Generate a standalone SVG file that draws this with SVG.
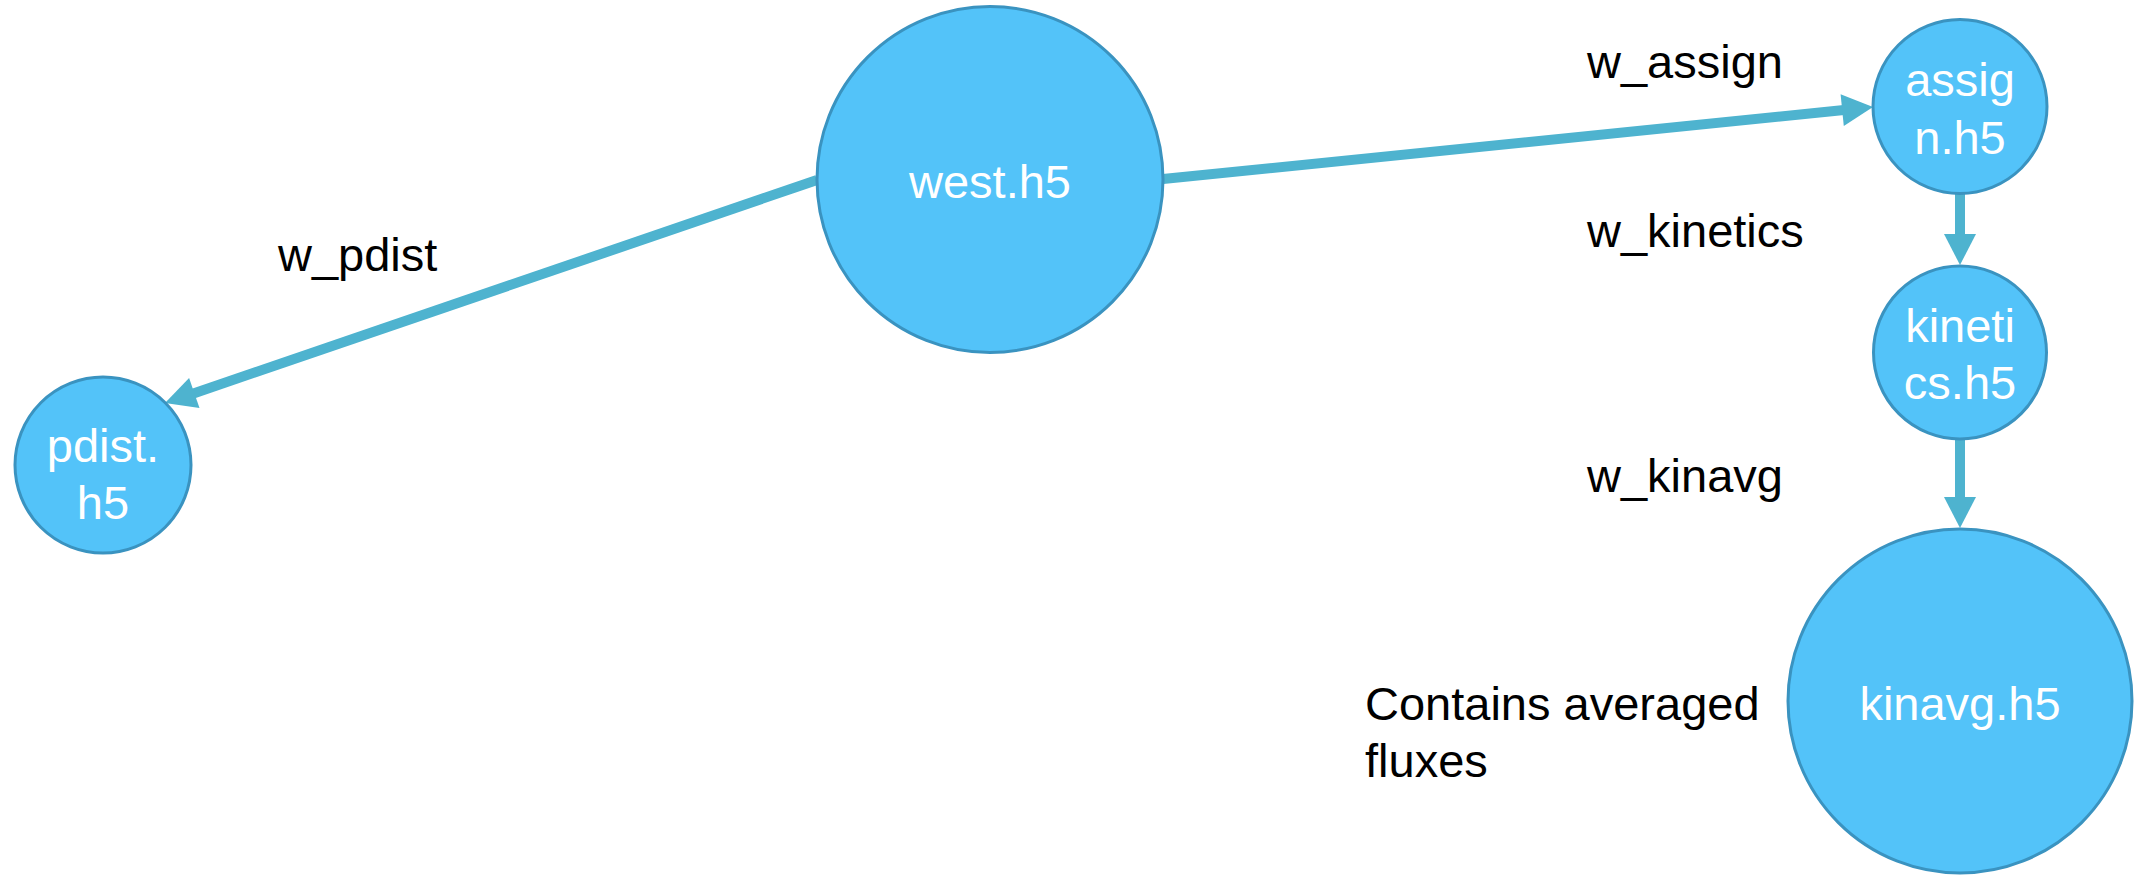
<svg xmlns="http://www.w3.org/2000/svg" width="2146" height="875" viewBox="0 0 2146 875">
<style>
.node{fill:#53C3F9;stroke:#3A93C0;stroke-width:3}
.nt{font-family:"Liberation Sans",Arial,sans-serif;font-size:47px;fill:#FFFFFF;text-anchor:middle}
.lbl{font-family:"Liberation Sans",Arial,sans-serif;font-size:47px;fill:#000000}
.edge{stroke:#4EB3CF;stroke-width:10;fill:none}
.head{fill:#4EB3CF;stroke:none}
</style>
<rect width="2146" height="875" fill="#FFFFFF"/>
<g id="connectors">
<line class="edge" x1="817" y1="180" x2="192" y2="394"/>
<polygon class="head" points="165,403 199.5,408.1 189.1,377.9"/>
<line class="edge" x1="1163" y1="179" x2="1844" y2="110"/>
<polygon class="head" points="1873,107 1843.8,126 1840.6,94.2"/>
<line class="edge" x1="1960" y1="193" x2="1960" y2="236"/>
<polygon class="head" points="1960,265 1944,234 1976,234"/>
<line class="edge" x1="1960" y1="439" x2="1960" y2="499"/>
<polygon class="head" points="1960,528 1944,497 1976,497"/>
</g>
<g id="labels">
<text class="lbl" x="278" y="271">w_pdist</text>
<text class="lbl" x="1587" y="78">w_assign</text>
<text class="lbl" x="1587" y="247">w_kinetics</text>
<text class="lbl" x="1587" y="492">w_kinavg</text>
<text class="lbl" x="1365" y="720">Contains averaged</text>
<text class="lbl" x="1365" y="777">fluxes</text>
</g>
<g id="west">
<circle class="node" cx="990" cy="179.5" r="173"/>
<text class="nt" x="990" y="198">west.h5</text>
</g>
<g id="assign">
<circle class="node" cx="1960" cy="106.5" r="87"/>
<text class="nt" x="1960" y="96">assig</text>
<text class="nt" x="1960" y="154">n.h5</text>
</g>
<g id="kinetics">
<circle class="node" cx="1960" cy="352.5" r="86.5"/>
<text class="nt" x="1960" y="342">kineti</text>
<text class="nt" x="1960" y="399">cs.h5</text>
</g>
<g id="kinavg">
<circle class="node" cx="1960" cy="701" r="172"/>
<text class="nt" x="1960" y="720">kinavg.h5</text>
</g>
<g id="pdist">
<circle class="node" cx="103" cy="465" r="88"/>
<text class="nt" x="103" y="462">pdist.</text>
<text class="nt" x="103" y="519">h5</text>
</g>
</svg>
